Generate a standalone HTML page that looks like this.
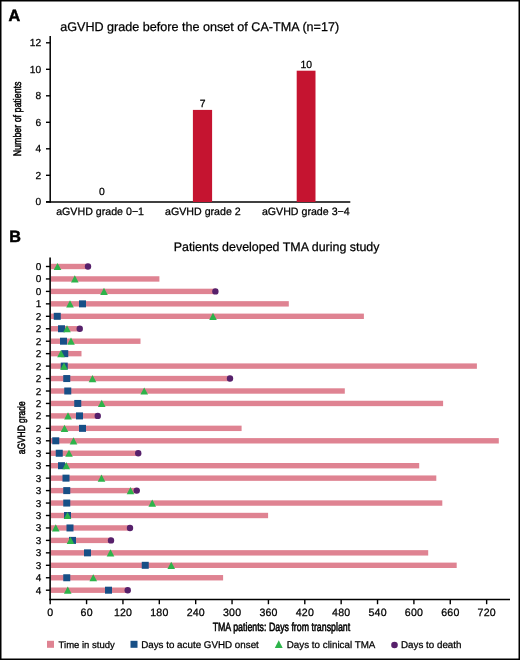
<!DOCTYPE html><html><head><meta charset="utf-8"><title>aGVHD and TMA</title><style>html,body{margin:0;padding:0;background:#fff;}svg{display:block;will-change:transform;}text{font-family:"Liberation Sans", sans-serif;fill:#000;text-rendering:geometricPrecision;stroke:#000;stroke-width:0.25px;}</style></head><body>
<svg width="520" height="660" viewBox="0 0 520 660">
<rect x="0" y="0" width="520" height="660" fill="#fff"/>
<rect x="0" y="0" width="520" height="660" fill="none" stroke="#000" stroke-width="3"/>
<text x="8.6" y="20.6" style="font-weight:bold;font-size:16.2px;stroke-width:0.5px">A</text>
<text x="60.2" y="30.6" style="font-size:12.6px">aGVHD grade before the onset of CA-TMA (n=17)</text>
<line x1="50.2" y1="36" x2="50.2" y2="202.8" stroke="#000" stroke-width="1.5"/>
<line x1="46" y1="202" x2="350.3" y2="202" stroke="#000" stroke-width="1.5"/>
<line x1="46" y1="201.80" x2="50.2" y2="201.80" stroke="#000" stroke-width="1.4"/>
<text x="41.2" y="205.40" text-anchor="end" style="font-size:10.2px">0</text>
<line x1="46" y1="175.30" x2="50.2" y2="175.30" stroke="#000" stroke-width="1.4"/>
<text x="41.2" y="178.90" text-anchor="end" style="font-size:10.2px">2</text>
<line x1="46" y1="148.80" x2="50.2" y2="148.80" stroke="#000" stroke-width="1.4"/>
<text x="41.2" y="152.40" text-anchor="end" style="font-size:10.2px">4</text>
<line x1="46" y1="122.30" x2="50.2" y2="122.30" stroke="#000" stroke-width="1.4"/>
<text x="41.2" y="125.90" text-anchor="end" style="font-size:10.2px">6</text>
<line x1="46" y1="95.80" x2="50.2" y2="95.80" stroke="#000" stroke-width="1.4"/>
<text x="41.2" y="99.40" text-anchor="end" style="font-size:10.2px">8</text>
<line x1="46" y1="69.30" x2="50.2" y2="69.30" stroke="#000" stroke-width="1.4"/>
<text x="41.2" y="72.90" text-anchor="end" style="font-size:10.2px">10</text>
<line x1="46" y1="42.80" x2="50.2" y2="42.80" stroke="#000" stroke-width="1.4"/>
<text x="41.2" y="46.40" text-anchor="end" style="font-size:10.2px">12</text>
<text transform="translate(21.3,118.9) rotate(-90)" text-anchor="middle" style="font-size:11px;stroke-width:0.5px" textLength="74.8" lengthAdjust="spacingAndGlyphs">Number of patients</text>
<rect x="192.9" y="109.9" width="19.2" height="92.1" fill="#c51430"/>
<rect x="296.7" y="70.7" width="18.8" height="131.3" fill="#c51430"/>
<text x="102" y="194.5" text-anchor="middle" style="font-size:10.4px">0</text>
<text x="202.6" y="107" text-anchor="middle" style="font-size:10.4px">7</text>
<text x="306.3" y="67.7" text-anchor="middle" style="font-size:10.4px">10</text>
<text x="100.1" y="214.7" text-anchor="middle" style="font-size:10.65px">aGVHD grade 0−1</text>
<text x="202.9" y="214.7" text-anchor="middle" style="font-size:10.65px">aGVHD grade 2</text>
<text x="305.8" y="214.7" text-anchor="middle" style="font-size:10.65px">aGVHD grade 3−4</text>
<text x="9.2" y="241.6" style="font-weight:bold;font-size:16.2px;stroke-width:0.5px">B</text>
<text x="173.7" y="251.2" style="font-size:12.45px">Patients developed TMA during study</text>
<rect x="50.8" y="263.80" width="37.20" height="5.40" fill="#df8392"/>
<rect x="50.8" y="276.25" width="108.60" height="5.40" fill="#df8392"/>
<rect x="50.8" y="288.70" width="164.60" height="5.40" fill="#df8392"/>
<rect x="50.8" y="301.15" width="238.00" height="5.40" fill="#df8392"/>
<rect x="50.8" y="313.60" width="313.10" height="5.40" fill="#df8392"/>
<rect x="50.8" y="326.05" width="28.95" height="5.40" fill="#df8392"/>
<rect x="50.8" y="338.50" width="89.70" height="5.40" fill="#df8392"/>
<rect x="50.8" y="350.95" width="30.70" height="5.40" fill="#df8392"/>
<rect x="50.8" y="363.40" width="426.10" height="5.40" fill="#df8392"/>
<rect x="50.8" y="375.85" width="179.20" height="5.40" fill="#df8392"/>
<rect x="50.8" y="388.30" width="294.00" height="5.40" fill="#df8392"/>
<rect x="50.8" y="400.75" width="392.30" height="5.40" fill="#df8392"/>
<rect x="50.8" y="413.20" width="46.95" height="5.40" fill="#df8392"/>
<rect x="50.8" y="425.65" width="190.80" height="5.40" fill="#df8392"/>
<rect x="50.8" y="438.10" width="448.00" height="5.40" fill="#df8392"/>
<rect x="50.8" y="450.55" width="87.45" height="5.40" fill="#df8392"/>
<rect x="50.8" y="463.00" width="368.40" height="5.40" fill="#df8392"/>
<rect x="50.8" y="475.45" width="385.50" height="5.40" fill="#df8392"/>
<rect x="50.8" y="487.90" width="85.95" height="5.40" fill="#df8392"/>
<rect x="50.8" y="500.35" width="391.50" height="5.40" fill="#df8392"/>
<rect x="50.8" y="512.80" width="217.30" height="5.40" fill="#df8392"/>
<rect x="50.8" y="525.25" width="79.20" height="5.40" fill="#df8392"/>
<rect x="50.8" y="537.70" width="60.20" height="5.40" fill="#df8392"/>
<rect x="50.8" y="550.15" width="377.40" height="5.40" fill="#df8392"/>
<rect x="50.8" y="562.60" width="405.90" height="5.40" fill="#df8392"/>
<rect x="50.8" y="575.05" width="172.30" height="5.40" fill="#df8392"/>
<rect x="50.8" y="587.50" width="76.95" height="5.40" fill="#df8392"/>
<path d="M57.50 262.90L61.30 270.10L53.70 270.10Z" fill="#2db34a"/>
<circle cx="88.00" cy="266.50" r="3.20" fill="#57206b"/>
<path d="M74.80 275.35L78.60 282.55L71.00 282.55Z" fill="#2db34a"/>
<path d="M104.00 287.80L107.80 295.00L100.20 295.00Z" fill="#2db34a"/>
<circle cx="215.40" cy="291.40" r="3.20" fill="#57206b"/>
<rect x="79.00" y="300.35" width="7" height="7" fill="#174f86"/>
<path d="M70.00 300.25L73.80 307.45L66.20 307.45Z" fill="#2db34a"/>
<rect x="53.75" y="312.80" width="7" height="7" fill="#174f86"/>
<path d="M213.00 312.70L216.80 319.90L209.20 319.90Z" fill="#2db34a"/>
<rect x="58.00" y="325.25" width="7" height="7" fill="#174f86"/>
<path d="M67.00 325.15L70.80 332.35L63.20 332.35Z" fill="#2db34a"/>
<circle cx="79.75" cy="328.75" r="3.20" fill="#57206b"/>
<rect x="60.00" y="337.70" width="7" height="7" fill="#174f86"/>
<path d="M71.00 337.60L74.80 344.80L67.20 344.80Z" fill="#2db34a"/>
<rect x="61.25" y="350.15" width="7" height="7" fill="#174f86"/>
<path d="M61.00 350.05L64.80 357.25L57.20 357.25Z" fill="#2db34a"/>
<rect x="60.75" y="362.60" width="7" height="7" fill="#174f86"/>
<path d="M64.00 362.50L67.80 369.70L60.20 369.70Z" fill="#2db34a"/>
<rect x="63.25" y="375.05" width="7" height="7" fill="#174f86"/>
<path d="M92.50 374.95L96.30 382.15L88.70 382.15Z" fill="#2db34a"/>
<circle cx="230.00" cy="378.55" r="3.20" fill="#57206b"/>
<rect x="64.25" y="387.50" width="7" height="7" fill="#174f86"/>
<path d="M144.20 387.40L148.00 394.60L140.40 394.60Z" fill="#2db34a"/>
<rect x="74.25" y="399.95" width="7" height="7" fill="#174f86"/>
<path d="M101.75 399.85L105.55 407.05L97.95 407.05Z" fill="#2db34a"/>
<rect x="76.00" y="412.40" width="7" height="7" fill="#174f86"/>
<path d="M68.00 412.30L71.80 419.50L64.20 419.50Z" fill="#2db34a"/>
<circle cx="97.75" cy="415.90" r="3.20" fill="#57206b"/>
<rect x="79.00" y="424.85" width="7" height="7" fill="#174f86"/>
<path d="M64.50 424.75L68.30 431.95L60.70 431.95Z" fill="#2db34a"/>
<rect x="52.25" y="437.30" width="7" height="7" fill="#174f86"/>
<path d="M73.50 437.20L77.30 444.40L69.70 444.40Z" fill="#2db34a"/>
<rect x="55.75" y="449.75" width="7" height="7" fill="#174f86"/>
<path d="M69.00 449.65L72.80 456.85L65.20 456.85Z" fill="#2db34a"/>
<circle cx="138.25" cy="453.25" r="3.20" fill="#57206b"/>
<rect x="58.00" y="462.20" width="7" height="7" fill="#174f86"/>
<path d="M66.25 462.10L70.05 469.30L62.45 469.30Z" fill="#2db34a"/>
<rect x="62.50" y="474.65" width="7" height="7" fill="#174f86"/>
<path d="M101.50 474.55L105.30 481.75L97.70 481.75Z" fill="#2db34a"/>
<rect x="63.25" y="487.10" width="7" height="7" fill="#174f86"/>
<path d="M130.50 487.00L134.30 494.20L126.70 494.20Z" fill="#2db34a"/>
<circle cx="136.75" cy="490.60" r="3.20" fill="#57206b"/>
<rect x="63.25" y="499.55" width="7" height="7" fill="#174f86"/>
<path d="M152.25 499.45L156.05 506.65L148.45 506.65Z" fill="#2db34a"/>
<rect x="64.00" y="512.00" width="7" height="7" fill="#174f86"/>
<path d="M67.50 511.90L71.30 519.10L63.70 519.10Z" fill="#2db34a"/>
<rect x="66.50" y="524.45" width="7" height="7" fill="#174f86"/>
<path d="M55.75 524.35L59.55 531.55L51.95 531.55Z" fill="#2db34a"/>
<circle cx="130.00" cy="527.95" r="3.20" fill="#57206b"/>
<rect x="69.00" y="536.90" width="7" height="7" fill="#174f86"/>
<path d="M70.50 536.80L74.30 544.00L66.70 544.00Z" fill="#2db34a"/>
<circle cx="111.00" cy="540.40" r="3.20" fill="#57206b"/>
<rect x="84.00" y="549.35" width="7" height="7" fill="#174f86"/>
<path d="M110.50 549.25L114.30 556.45L106.70 556.45Z" fill="#2db34a"/>
<rect x="141.75" y="561.80" width="7" height="7" fill="#174f86"/>
<path d="M171.25 561.70L175.05 568.90L167.45 568.90Z" fill="#2db34a"/>
<rect x="63.25" y="574.25" width="7" height="7" fill="#174f86"/>
<path d="M93.25 574.15L97.05 581.35L89.45 581.35Z" fill="#2db34a"/>
<rect x="105.00" y="586.70" width="7" height="7" fill="#174f86"/>
<path d="M67.75 586.60L71.55 593.80L63.95 593.80Z" fill="#2db34a"/>
<circle cx="127.75" cy="590.20" r="3.20" fill="#57206b"/>
<line x1="50.1" y1="257.5" x2="50.1" y2="600.2" stroke="#000" stroke-width="1.6"/>
<line x1="49.3" y1="599.5" x2="510" y2="599.5" stroke="#000" stroke-width="1.5"/>
<line x1="45.9" y1="266.50" x2="50.1" y2="266.50" stroke="#000" stroke-width="1.4"/>
<text x="41.3" y="270.00" text-anchor="end" style="font-size:10px">0</text>
<line x1="45.9" y1="278.95" x2="50.1" y2="278.95" stroke="#000" stroke-width="1.4"/>
<text x="41.3" y="282.45" text-anchor="end" style="font-size:10px">0</text>
<line x1="45.9" y1="291.40" x2="50.1" y2="291.40" stroke="#000" stroke-width="1.4"/>
<text x="41.3" y="294.90" text-anchor="end" style="font-size:10px">0</text>
<line x1="45.9" y1="303.85" x2="50.1" y2="303.85" stroke="#000" stroke-width="1.4"/>
<text x="41.3" y="307.35" text-anchor="end" style="font-size:10px">1</text>
<line x1="45.9" y1="316.30" x2="50.1" y2="316.30" stroke="#000" stroke-width="1.4"/>
<text x="41.3" y="319.80" text-anchor="end" style="font-size:10px">2</text>
<line x1="45.9" y1="328.75" x2="50.1" y2="328.75" stroke="#000" stroke-width="1.4"/>
<text x="41.3" y="332.25" text-anchor="end" style="font-size:10px">2</text>
<line x1="45.9" y1="341.20" x2="50.1" y2="341.20" stroke="#000" stroke-width="1.4"/>
<text x="41.3" y="344.70" text-anchor="end" style="font-size:10px">2</text>
<line x1="45.9" y1="353.65" x2="50.1" y2="353.65" stroke="#000" stroke-width="1.4"/>
<text x="41.3" y="357.15" text-anchor="end" style="font-size:10px">2</text>
<line x1="45.9" y1="366.10" x2="50.1" y2="366.10" stroke="#000" stroke-width="1.4"/>
<text x="41.3" y="369.60" text-anchor="end" style="font-size:10px">2</text>
<line x1="45.9" y1="378.55" x2="50.1" y2="378.55" stroke="#000" stroke-width="1.4"/>
<text x="41.3" y="382.05" text-anchor="end" style="font-size:10px">2</text>
<line x1="45.9" y1="391.00" x2="50.1" y2="391.00" stroke="#000" stroke-width="1.4"/>
<text x="41.3" y="394.50" text-anchor="end" style="font-size:10px">2</text>
<line x1="45.9" y1="403.45" x2="50.1" y2="403.45" stroke="#000" stroke-width="1.4"/>
<text x="41.3" y="406.95" text-anchor="end" style="font-size:10px">2</text>
<line x1="45.9" y1="415.90" x2="50.1" y2="415.90" stroke="#000" stroke-width="1.4"/>
<text x="41.3" y="419.40" text-anchor="end" style="font-size:10px">2</text>
<line x1="45.9" y1="428.35" x2="50.1" y2="428.35" stroke="#000" stroke-width="1.4"/>
<text x="41.3" y="431.85" text-anchor="end" style="font-size:10px">2</text>
<line x1="45.9" y1="440.80" x2="50.1" y2="440.80" stroke="#000" stroke-width="1.4"/>
<text x="41.3" y="444.30" text-anchor="end" style="font-size:10px">3</text>
<line x1="45.9" y1="453.25" x2="50.1" y2="453.25" stroke="#000" stroke-width="1.4"/>
<text x="41.3" y="456.75" text-anchor="end" style="font-size:10px">3</text>
<line x1="45.9" y1="465.70" x2="50.1" y2="465.70" stroke="#000" stroke-width="1.4"/>
<text x="41.3" y="469.20" text-anchor="end" style="font-size:10px">3</text>
<line x1="45.9" y1="478.15" x2="50.1" y2="478.15" stroke="#000" stroke-width="1.4"/>
<text x="41.3" y="481.65" text-anchor="end" style="font-size:10px">3</text>
<line x1="45.9" y1="490.60" x2="50.1" y2="490.60" stroke="#000" stroke-width="1.4"/>
<text x="41.3" y="494.10" text-anchor="end" style="font-size:10px">3</text>
<line x1="45.9" y1="503.05" x2="50.1" y2="503.05" stroke="#000" stroke-width="1.4"/>
<text x="41.3" y="506.55" text-anchor="end" style="font-size:10px">3</text>
<line x1="45.9" y1="515.50" x2="50.1" y2="515.50" stroke="#000" stroke-width="1.4"/>
<text x="41.3" y="519.00" text-anchor="end" style="font-size:10px">3</text>
<line x1="45.9" y1="527.95" x2="50.1" y2="527.95" stroke="#000" stroke-width="1.4"/>
<text x="41.3" y="531.45" text-anchor="end" style="font-size:10px">3</text>
<line x1="45.9" y1="540.40" x2="50.1" y2="540.40" stroke="#000" stroke-width="1.4"/>
<text x="41.3" y="543.90" text-anchor="end" style="font-size:10px">3</text>
<line x1="45.9" y1="552.85" x2="50.1" y2="552.85" stroke="#000" stroke-width="1.4"/>
<text x="41.3" y="556.35" text-anchor="end" style="font-size:10px">3</text>
<line x1="45.9" y1="565.30" x2="50.1" y2="565.30" stroke="#000" stroke-width="1.4"/>
<text x="41.3" y="568.80" text-anchor="end" style="font-size:10px">3</text>
<line x1="45.9" y1="577.75" x2="50.1" y2="577.75" stroke="#000" stroke-width="1.4"/>
<text x="41.3" y="581.25" text-anchor="end" style="font-size:10px">4</text>
<line x1="45.9" y1="590.20" x2="50.1" y2="590.20" stroke="#000" stroke-width="1.4"/>
<text x="41.3" y="593.70" text-anchor="end" style="font-size:10px">4</text>
<line x1="50.20" y1="599.5" x2="50.20" y2="604.2" stroke="#000" stroke-width="1.4"/>
<text x="50.30" y="615.9" text-anchor="middle" style="font-size:10.6px;letter-spacing:0.2px">0</text>
<line x1="86.57" y1="599.5" x2="86.57" y2="604.2" stroke="#000" stroke-width="1.4"/>
<text x="86.67" y="615.9" text-anchor="middle" style="font-size:10.6px;letter-spacing:0.2px">60</text>
<line x1="122.94" y1="599.5" x2="122.94" y2="604.2" stroke="#000" stroke-width="1.4"/>
<text x="123.04" y="615.9" text-anchor="middle" style="font-size:10.6px;letter-spacing:0.2px">120</text>
<line x1="159.31" y1="599.5" x2="159.31" y2="604.2" stroke="#000" stroke-width="1.4"/>
<text x="159.41" y="615.9" text-anchor="middle" style="font-size:10.6px;letter-spacing:0.2px">180</text>
<line x1="195.68" y1="599.5" x2="195.68" y2="604.2" stroke="#000" stroke-width="1.4"/>
<text x="195.78" y="615.9" text-anchor="middle" style="font-size:10.6px;letter-spacing:0.2px">240</text>
<line x1="232.05" y1="599.5" x2="232.05" y2="604.2" stroke="#000" stroke-width="1.4"/>
<text x="232.15" y="615.9" text-anchor="middle" style="font-size:10.6px;letter-spacing:0.2px">300</text>
<line x1="268.42" y1="599.5" x2="268.42" y2="604.2" stroke="#000" stroke-width="1.4"/>
<text x="268.52" y="615.9" text-anchor="middle" style="font-size:10.6px;letter-spacing:0.2px">360</text>
<line x1="304.79" y1="599.5" x2="304.79" y2="604.2" stroke="#000" stroke-width="1.4"/>
<text x="304.89" y="615.9" text-anchor="middle" style="font-size:10.6px;letter-spacing:0.2px">420</text>
<line x1="341.16" y1="599.5" x2="341.16" y2="604.2" stroke="#000" stroke-width="1.4"/>
<text x="341.26" y="615.9" text-anchor="middle" style="font-size:10.6px;letter-spacing:0.2px">480</text>
<line x1="377.53" y1="599.5" x2="377.53" y2="604.2" stroke="#000" stroke-width="1.4"/>
<text x="377.63" y="615.9" text-anchor="middle" style="font-size:10.6px;letter-spacing:0.2px">540</text>
<line x1="413.90" y1="599.5" x2="413.90" y2="604.2" stroke="#000" stroke-width="1.4"/>
<text x="414.00" y="615.9" text-anchor="middle" style="font-size:10.6px;letter-spacing:0.2px">600</text>
<line x1="450.27" y1="599.5" x2="450.27" y2="604.2" stroke="#000" stroke-width="1.4"/>
<text x="450.37" y="615.9" text-anchor="middle" style="font-size:10.6px;letter-spacing:0.2px">660</text>
<line x1="486.64" y1="599.5" x2="486.64" y2="604.2" stroke="#000" stroke-width="1.4"/>
<text x="486.74" y="615.9" text-anchor="middle" style="font-size:10.6px;letter-spacing:0.2px">720</text>
<text x="281.4" y="631.2" text-anchor="middle" style="font-size:12px;stroke-width:0.55px" textLength="137.5" lengthAdjust="spacingAndGlyphs">TMA patients: Days from transplant</text>
<text transform="translate(24.6,427.8) rotate(-90)" text-anchor="middle" style="font-size:10.6px;stroke-width:0.5px" textLength="53" lengthAdjust="spacingAndGlyphs">aGVHD grade</text>
<rect x="47" y="640.8" width="7" height="7" fill="#df8392"/>
<text x="58.6" y="647.8" style="font-size:9.5px">Time in study</text>
<rect x="130.5" y="640.8" width="7" height="7" fill="#174f86"/>
<text x="141.2" y="647.8" style="font-size:9.8px">Days to acute GVHD onset</text>
<path d="M278.75 640.3L282.7 648.1L274.8 648.1Z" fill="#2db34a"/>
<text x="286.8" y="647.8" style="font-size:9.8px">Days to clinical TMA</text>
<circle cx="394.5" cy="645" r="3.3" fill="#57206b"/>
<text x="401" y="647.8" style="font-size:9.8px">Days to death</text>
</svg></body></html>
